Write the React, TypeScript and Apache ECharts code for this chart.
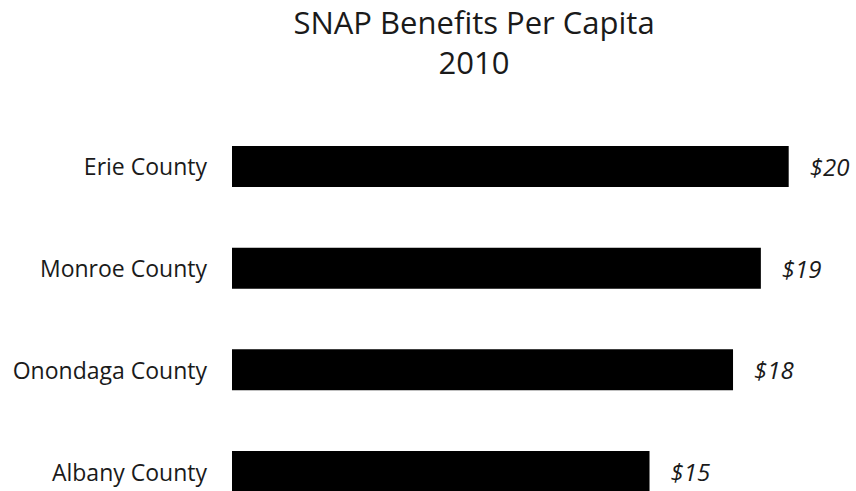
import React, { useEffect, useRef } from "react";
import * as echarts from "echarts";

const categories = ["Erie County", "Monroe County", "Onondaga County", "Albany County"];
const values = [20, 19, 18, 15];
const titleText = "SNAP Benefits Per Capita";
const subText = "2010";

export default function App() {
  const ref = useRef<HTMLDivElement>(null);
  useEffect(() => {
    const chart = echarts.init(ref.current!, null, { renderer: "svg" });
    const font = "'Open Sans', sans-serif";
    chart.setOption({
      animation: false,
      backgroundColor: "#ffffff",
      title: {
        text: titleText + "\n" + subText,
        left: 474,
        top: 2,
        padding: 0,
        textAlign: "center",
        textStyle: {
          fontFamily: font,
          fontSize: 31,
          fontWeight: "normal",
          color: "#1a1a1a",
          lineHeight: 40,
        },
      },
      grid: { left: 232, width: 556.7, top: 115.6, height: 406.8, containLabel: false },
      xAxis: {
        type: "value",
        min: 0,
        max: 20,
        show: false,
      },
      yAxis: {
        type: "category",
        data: categories,
        inverse: true,
        axisLine: { show: false },
        axisTick: { show: false },
        splitLine: { show: false },
        axisLabel: {
          margin: 25,
          fontFamily: font,
          fontSize: 23,
          color: "#1a1a1a",
        },
      },
      series: [
        {
          type: "bar",
          data: values,
          barWidth: 41,
          itemStyle: { color: "#000000" },
          label: {
            show: true,
            position: "right",
            distance: 21,
            formatter: (p: any) => "$" + p.value,
            fontFamily: font,
            fontStyle: "italic",
            fontSize: 24,
            color: "#1a1a1a",
          },
        },
      ],
    });
    return () => chart.dispose();
  }, []);
  return (
    <div style={{ position: "absolute", left: 0, top: 0, width: 856, height: 491, overflow: "hidden" }}>
      <div ref={ref} style={{ width: 856, height: 560 }} />
    </div>
  );
}
